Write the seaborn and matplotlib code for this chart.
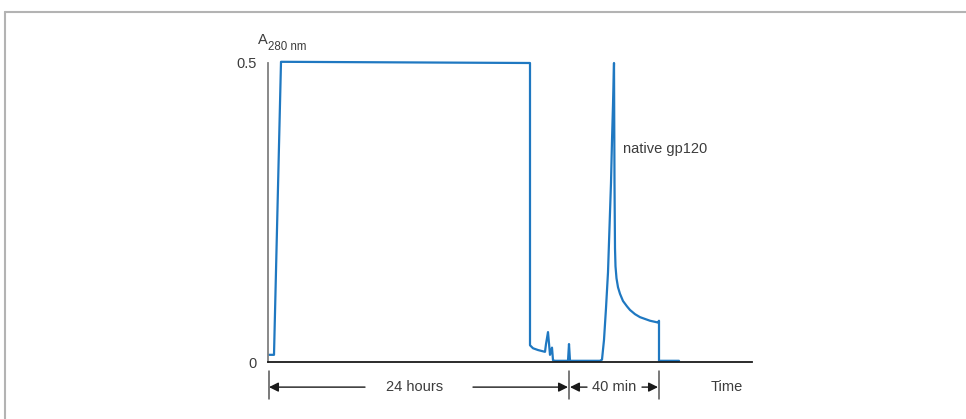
import matplotlib
matplotlib.use("Agg")
import matplotlib.pyplot as plt
import seaborn as sns
import pandas as pd
from matplotlib.lines import Line2D

# elution profile (time in arbitrary units, absorbance at 280 nm)
time_units = [1, 6, 13, 262, 262, 265, 270, 277, 278, 280, 282, 284, 285,
              287, 300, 301, 302, 332, 334, 336, 338, 340, 341, 342, 343,
              344, 345, 346, 346.5, 347, 347.5, 348.5, 350, 352, 355, 359,
              362, 367, 372, 382, 390, 391, 391, 411]
absorbance = [0.012, 0.012, 0.502, 0.500, 0.028, 0.023, 0.020, 0.017, 0.030,
              0.050, 0.012, 0.024, 0.003, 0.002, 0.002, 0.030, 0.002, 0.002,
              0.004, 0.037, 0.090, 0.150, 0.200, 0.250, 0.300, 0.370, 0.430,
              0.500, 0.300, 0.190, 0.160, 0.140, 0.125, 0.114, 0.102, 0.093,
              0.087, 0.080, 0.075, 0.069, 0.066, 0.069, 0.002, 0.002]

y_ticks = [0, 0.5]
y_tick_labels = ["0", "0.5"]

# bracket marks under the time axis
bracket_marks = [0.5, 301, 391]
bracket_labels = ["24 hours", "40 min", "Time"]
bracket_label_pos = [147, 346, 459]

TEXT = "#3c3c3c"
BLUE = "#1f78c1"

sns.set_theme(style="white")
plt.rcParams["font.family"] = ["Liberation Sans", "DejaVu Sans"]

df = pd.DataFrame({"time": time_units, "A280": absorbance})

fig = plt.figure(figsize=(9.66, 4.19), dpi=100)
ax = fig.add_axes([268 / 966, 57 / 419, 484 / 966, 299 / 419])

sns.lineplot(data=df, x="time", y="A280", sort=False, estimator=None,
             color=BLUE, linewidth=1.6, ax=ax, clip_on=False)

ax.set_xlim(0, 484)
ax.set_ylim(0, 0.5)
ax.set_xlabel("")
ax.set_ylabel("")
ax.set_xticks([])
ax.set_yticks(y_ticks)
ax.set_yticklabels(y_tick_labels)
ax.tick_params(axis="y", length=0, pad=8, labelsize=10.5, labelcolor=TEXT)

for side in ["top", "right"]:
    ax.spines[side].set_visible(False)
ax.spines["left"].set_color("#808080")
ax.spines["left"].set_linewidth(1.3)
ax.spines["bottom"].set_color("#1a1a1a")
ax.spines["bottom"].set_linewidth(1.3)

# axis title A280 nm
ax.text(-0.02, 1.077, "A", transform=ax.transAxes, fontsize=10.5,
        color=TEXT, ha="left", va="center")
ax.text(0.0, 1.053, "280 nm", transform=ax.transAxes, fontsize=8.3,
        color=TEXT, ha="left", va="center")

ax.text(355, 0.357, "native gp120", fontsize=10.5, color=TEXT,
        ha="left", va="center")

# time brackets
trans = ax.get_xaxis_transform()
arrow_y = -0.084
for x in bracket_marks:
    ax.plot([x, x], [-0.03, -0.125], color="#555555", lw=1.1,
            transform=trans, clip_on=False)

arrow_kw = dict(arrowstyle="-|>", color="#1a1a1a", lw=1.0,
                mutation_scale=14, shrinkA=0, shrinkB=0)
for tip, start in [(1, 97), (300, 205), (302, 319), (390, 374)]:
    ax.annotate("", xy=(tip, arrow_y), xytext=(start, arrow_y),
                xycoords=trans, textcoords=trans, arrowprops=arrow_kw,
                annotation_clip=False)

for label, x in zip(bracket_labels, bracket_label_pos):
    ax.text(x, arrow_y, label, transform=trans, fontsize=10.5, color=TEXT,
            ha="center", va="center")

# grey frame around the panel
fig.add_artist(Line2D([4.5 / 966, 1], [1 - 12.5 / 419, 1 - 12.5 / 419],
                      color="#b3b3b3", lw=1.5, transform=fig.transFigure))
fig.add_artist(Line2D([4.5 / 966, 4.5 / 966], [0, 1 - 12.5 / 419],
                      color="#b3b3b3", lw=1.5, transform=fig.transFigure))

fig.savefig("out.png", dpi=100)
plt.close(fig)
